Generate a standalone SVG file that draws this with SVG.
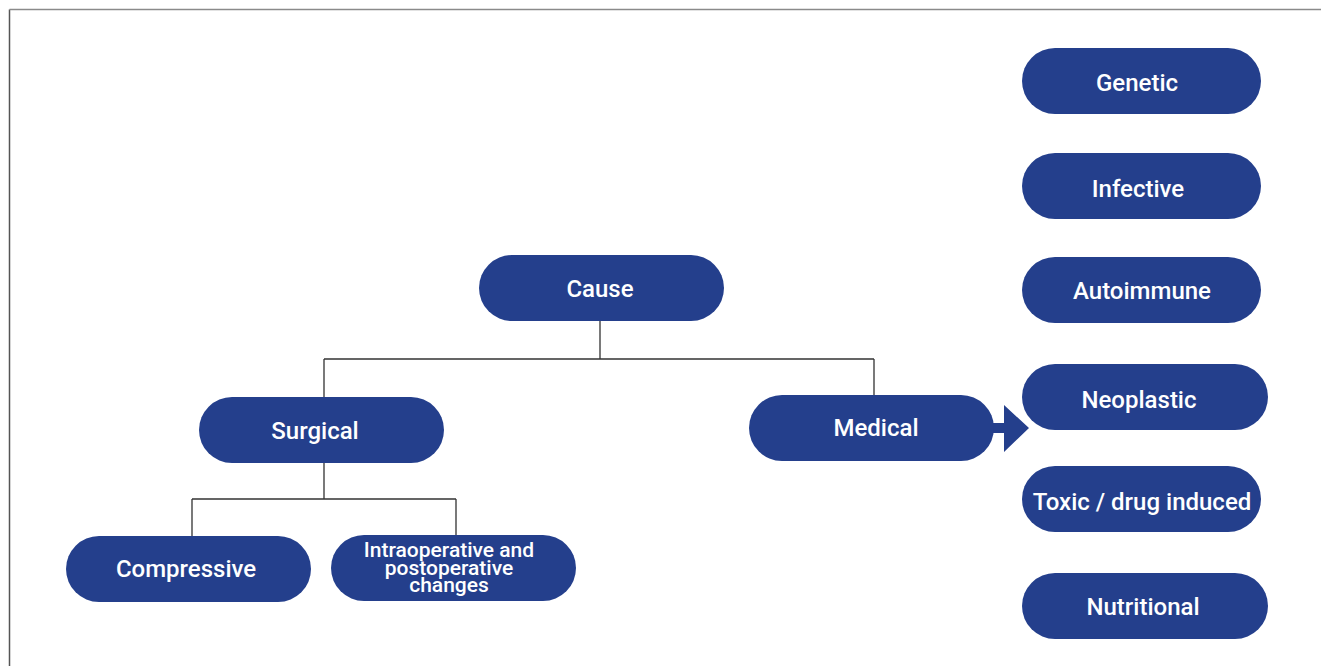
<svg xmlns="http://www.w3.org/2000/svg" width="1322" height="666" viewBox="0 0 1322 666">
<style>
.n{fill:#243f8c}
.t{fill:#fff;font-family:Roboto,"Liberation Sans",sans-serif;font-weight:500;font-size:24px;text-anchor:middle}
.s{font-size:21px}
.c{fill:none;stroke:#333;stroke-width:1.3}
</style>
<rect width="1322" height="666" fill="#fff"/>
<path d="M9.5 666V9.5" fill="none" stroke="#555" stroke-width="1.5"/>
<path d="M9.5 9.5H1321" fill="none" stroke="#8a8a8a" stroke-width="1.5"/>
<g id="connectors">
<path class="c" d="M600 321V359M324 359H874M324 359V397M874 359V395"/>
<path class="c" d="M324 463V499M192 499H456M192 499V536M456 499V535"/>
<path class="n" d="M992 423H1004V405L1029 428L1004 452V433H992Z"/>
</g>
<g id="cause"><rect class="n" x="479" y="255" width="245" height="66" rx="33"/><text class="t" x="600" y="297">Cause</text></g>
<g id="surgical"><rect class="n" x="199" y="397" width="245" height="66" rx="33"/><text class="t" x="315" y="439">Surgical</text></g>
<g id="medical"><rect class="n" x="749" y="395" width="245" height="66" rx="33"/><text class="t" x="876" y="436">Medical</text></g>
<g id="compressive"><rect class="n" x="66" y="536" width="245" height="66" rx="33"/><text class="t" x="186" y="577">Compressive</text></g>
<g id="intraoperative"><rect class="n" x="331" y="535" width="245" height="66" rx="33"/><text class="t s" x="449" y="557">Intraoperative and</text><text class="t s" x="449" y="575">postoperative</text><text class="t s" x="449" y="592">changes</text></g>
<g id="genetic"><rect class="n" x="1022" y="48" width="239" height="66" rx="33"/><text class="t" x="1137" y="91">Genetic</text></g>
<g id="infective"><rect class="n" x="1022" y="153" width="239" height="66" rx="33"/><text class="t" x="1138" y="197">Infective</text></g>
<g id="autoimmune"><rect class="n" x="1022" y="257" width="239" height="66" rx="33"/><text class="t" x="1142" y="299">Autoimmune</text></g>
<g id="neoplastic"><rect class="n" x="1022" y="364" width="246" height="66" rx="33"/><text class="t" x="1139" y="408">Neoplastic</text></g>
<g id="toxic"><rect class="n" x="1022" y="466" width="239" height="66" rx="33"/><text class="t" x="1142" y="510">Toxic / drug induced</text></g>
<g id="nutritional"><rect class="n" x="1022" y="573" width="246" height="66" rx="33"/><text class="t" x="1143" y="615">Nutritional</text></g>
</svg>
